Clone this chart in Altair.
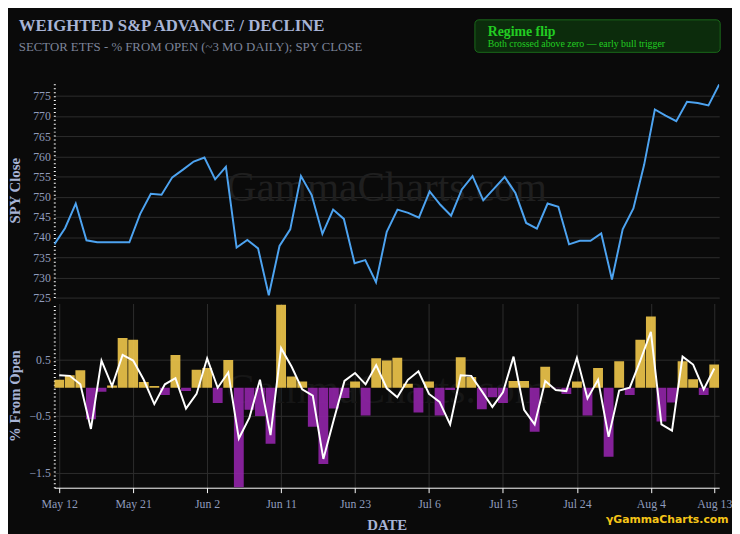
import pandas as pd
import altair as alt

tick_labels = ["May 12", "May 21", "Jun 2", "Jun 11", "Jun 23", "Jul 6", "Jul 15", "Jul 24", "Aug 4", "Aug 13"]
tick_index = [0, 7, 14, 21, 28, 35, 42, 49, 56, 62]

spy_close = [738.2, 742.2, 748.3, 739.2, 738.7, 738.7, 738.7, 738.7, 745.7, 750.7,
             750.5, 754.8, 756.7, 758.7, 759.7, 754.3, 757.4, 737.4, 739.3, 737.2,
             725.6, 737.8, 741.9, 755.1, 750.4, 740.8, 746.8, 744.5, 733.5, 734.3,
             728.8, 741.3, 746.8, 746.0, 744.8, 751.3, 748.0, 745.3, 751.8, 755.1,
             749.1, 752.0, 754.9, 750.9, 743.5, 742.1, 748.3, 747.5, 738.2, 739.1,
             739.1, 740.9, 729.5, 741.9, 747.1, 757.9, 771.6, 770.1, 768.7, 773.5,
             773.2, 772.6, 777.8]

pct_bars = [0.14, 0.22, 0.31, -0.56, -0.07, 0.04, 0.88, 0.85, 0.10, 0.03,
            -0.13, 0.58, -0.06, 0.32, 0.35, -0.27, 0.49, -1.76, -0.39, -0.50,
            -0.99, 1.47, 0.20, 0.11, -0.69, -1.35, -0.37, -0.18, 0.11, -0.49,
            0.52, 0.48, 0.53, 0.07, -0.44, 0.11, -0.49, -0.04, 0.54, 0.19,
            -0.38, -0.17, -0.27, 0.12, 0.12, -0.78, 0.37, -0.01, -0.11, 0.11,
            -0.49, 0.35, -1.22, 0.47, -0.13, 0.85, 1.26, -0.60, -0.26, 0.47,
            0.15, -0.13, 0.41]

pct_line = [0.22, 0.21, 0.06, -0.73, 0.48, 0.03, 0.58, 0.48, 0.14, -0.29,
            0.06, 0.17, -0.37, -0.11, 0.52, 0.00, 0.27, -0.90, -0.53, 0.14,
            -0.84, 0.70, 0.37, -0.03, -0.14, -1.26, -0.56, 0.12, 0.26, 0.06,
            0.40, -0.01, -0.17, 0.14, 0.29, -0.11, -0.25, -0.65, 0.22, 0.21,
            -0.06, -0.34, -0.08, 0.55, -0.39, -0.65, 0.12, -0.04, -0.06, 0.53,
            -0.19, 0.14, -0.87, -0.05, 0.00, 0.48, 0.99, -0.65, -0.76, 0.55,
            0.41, -0.03, 0.34]

df = pd.DataFrame({
    "idx": list(range(len(spy_close))),
    "spy": spy_close,
    "bar": pct_bars,
    "line": pct_line,
})

BG = "#0a0a0a"
GRID = "#2e2e2e"
LABEL = "#8f9cbd"
TITLE = "#a7b4d6"
SERIF = "Liberation Serif"
W = 675

label_expr = "datum.value == 62 ? 'Aug 13' : " + str(tick_labels[:-1]) + "[datum.value / 7]"

x_top = alt.X("idx:Q", scale=alt.Scale(domain=[0, 62], nice=False), axis=None)
x_bot = alt.X("idx:Q", scale=alt.Scale(domain=[0, 62], nice=False), title="DATE",
              axis=alt.Axis(values=tick_index, labelExpr=label_expr, grid=True,
                            gridColor=GRID, domainColor="#ffffff", tickColor="#ffffff",
                            labelColor=LABEL, labelFont=SERIF, labelFontSize=12,
                            titleColor=TITLE, titleFont=SERIF, titleFontSize=15,
                            titleFontWeight="bold", labelPadding=6, titlePadding=8))

y_axis_style = dict(gridColor=GRID, domainColor="#ffffff", domainDash=[1, 3], domainWidth=2,
                    ticks=False, labelColor=LABEL, labelFont=SERIF, labelFontSize=12,
                    titleColor=TITLE, titleFont=SERIF, titleFontSize=15,
                    titleFontWeight="bold", labelPadding=4, minExtent=28, maxExtent=28)

base = alt.Chart(df)

spy = base.mark_line(color="#4da3f0", strokeWidth=2, clip=True).encode(
    x=x_top,
    y=alt.Y("spy:Q", scale=alt.Scale(domain=[725, 778.2], nice=False, zero=False),
            title="SPY Close",
            axis=alt.Axis(values=list(range(725, 780, 5)), **y_axis_style)),
)

wm = pd.DataFrame({"t": ["GammaCharts.com"]})
wm_top = alt.Chart(wm).mark_text(font=SERIF, fontSize=42, color="#1f1f1f").encode(
    x=alt.value(W / 2), y=alt.value(107), text="t:N")

head = pd.DataFrame({"t": ["WEIGHTED S&P ADVANCE / DECLINE"]})
title_t = alt.Chart(head).mark_text(font=SERIF, fontSize=17, fontWeight="bold", color=TITLE,
                                    align="left", baseline="middle").encode(
    x=alt.value(-36), y=alt.value(-58), text="t:N")
sub = pd.DataFrame({"t": ["SECTOR ETFS - % FROM OPEN (~3 MO DAILY); SPY CLOSE"]})
sub_t = alt.Chart(sub).mark_text(font=SERIF, fontSize=13, color="#7c8499",
                                 align="left", baseline="middle").encode(
    x=alt.value(-36), y=alt.value(-36), text="t:N")
box = alt.Chart(wm).mark_rect(fill="#0c2c0c", stroke="#1a6a1a", cornerRadius=4).encode(
    x=alt.value(427), x2=alt.value(676), y=alt.value(-64), y2=alt.value(-31))
box_t1 = alt.Chart(pd.DataFrame({"t": ["Regime flip"]})).mark_text(
    font=SERIF, fontSize=14, fontWeight="bold", color="#22cc22", align="left", baseline="middle"
).encode(x=alt.value(440), y=alt.value(-52), text="t:N")
box_t2 = alt.Chart(pd.DataFrame({"t": ["Both crossed above zero — early bull trigger"]})).mark_text(
    font=SERIF, fontSize=10, color="#22cc22", align="left", baseline="middle"
).encode(x=alt.value(440), y=alt.value(-39), text="t:N")

top = alt.layer(wm_top, spy, title_t, sub_t, box, box_t1, box_t2).properties(width=W, height=218)

bars = base.mark_bar(size=10, opacity=0.9, clip=True).encode(
    x=x_bot,
    y=alt.Y("bar:Q", scale=alt.Scale(domain=[-1.77, 1.49], nice=False), title="% From Open",
            axis=alt.Axis(values=[-1.5, -1, -0.5, 0, 0.5, 1], format="~g", **y_axis_style)),
    color=alt.condition("datum.bar >= 0", alt.value("#f0c64a"), alt.value("#9124a8")),
)
line = base.mark_line(color="#ffffff", strokeWidth=2).encode(x="idx:Q", y="line:Q")
wm_bot = alt.Chart(wm).mark_text(font=SERIF, fontSize=42, color="#161616").encode(
    x=alt.value(W / 2), y=alt.value(88), text="t:N")
logo = alt.Chart(pd.DataFrame({"t": ["γGammaCharts.com"]})).mark_text(
    font="DejaVu Sans", fontSize=11, fontWeight="bold", color="#f5c518", align="left",
    baseline="middle").encode(x=alt.value(560), y=alt.value(220), text="t:N")

bottom = alt.layer(wm_bot, bars, line, logo).properties(width=W, height=187)

chart = alt.vconcat(top, bottom, spacing=0).properties(
    background=BG,
    padding={"left": 0, "top": 5, "right": 0, "bottom": 0},
).configure_view(stroke=None)

chart.save("out.html", embed_options={"renderer": "svg", "actions": False})
